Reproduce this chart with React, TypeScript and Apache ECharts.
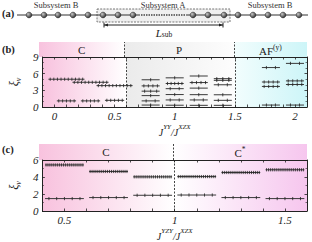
import React, { useEffect, useRef } from "react";
import * as echarts from "echarts";

// ---------- data ----------
// panel (b): J^YY/J^XZX
const bBounds = [-0.1, 0.6, 1.5, 2.1];
const bPhaseNames = ["C", "P", "AF"];
const bJ_C = [0.1, 0.3, 0.5];
const bC_upper = [5.0, 4.45, 3.85];
const bC_lower = [1.1, 1.1, 1.2];
const bC_upperTicks = [10, 10, 10];
const bC_lowerTicks = [5, 5, 5];
const bJ_P = [0.8, 1.0, 1.2, 1.4];
const bP_levels = [
  [4.9, 3.8, 2.85, 2.05, 1.1, 0.35],
  [5.25, 4.23, 3.3, 2.24, 1.27, 0.32],
  [5.58, 4.4, 3.4, 2.22, 1.27, 0.3],
  [5.1, 4.8, 4.0, 2.2, 1.2, 0.3],
];
const bP_ticks = [
  [1, 4, 3, 1, 2, 1],
  [1, 5, 2, 1, 2, 1],
  [1, 4, 1, 1, 2, 1],
  [3, 3, 2, 1, 2, 1],
];
const bJ_AF = [1.8, 2.0];
const bAF_levels = [
  [7.1, 4.5, 3.7, 0.35],
  [7.85, 4.7, 4.05, 0.35],
];
const bAF_ticks = [
  [2, 4, 4, 2],
  [2, 4, 4, 2],
];

// panel (c): J^YZY/J^XZX
const cBounds = [0.4, 1.0, 1.6];
const cPhaseNames = ["C", "C*"];
const cJ = [0.5, 0.7, 0.9, 1.1, 1.3, 1.5];
const cUpper = [5.42, 4.65, 4.02, 4.05, 4.53, 4.85];
const cLower = [1.46, 1.58, 1.85, 1.88, 1.58, 1.46];
const cUpperTicks = [20, 20, 20, 20, 20, 20];
const cLowerTicks = [5, 5, 5, 5, 5, 5];

const bHalfC_up = 0.15;
const bHalfC_lo = 0.08;
const bHalfP = 0.075;
const cHalf = 0.088;

// ---------- helpers ----------
const FONT = "Liberation Serif";
const INK = "#222";

function grad(c0: string, c1: string) {
  return new echarts.graphic.LinearGradient(0, 0, 1, 0, [
    { offset: 0, color: c0 },
    { offset: 1, color: c1 },
  ]);
}

function buildB() {
  const out: number[][] = [];
  bJ_C.forEach((j, i) => {
    out.push([j, bC_upper[i], bHalfC_up, bC_upperTicks[i]]);
    out.push([j, bC_lower[i], bHalfC_lo, bC_lowerTicks[i]]);
  });
  bJ_P.forEach((j, i) =>
    bP_levels[i].forEach((v, k) => out.push([j, v, bHalfP, bP_ticks[i][k]]))
  );
  bJ_AF.forEach((j, i) =>
    bAF_levels[i].forEach((v, k) => out.push([j, v, bHalfP, bAF_ticks[i][k]]))
  );
  return out;
}
function buildC() {
  const out: number[][] = [];
  cJ.forEach((j, i) => {
    out.push([j, cUpper[i], cHalf, cUpperTicks[i]]);
    out.push([j, cLower[i], cHalf, cLowerTicks[i]]);
  });
  return out;
}

function renderSeg(params: any, api: any) {
  const c = api.value(0);
  const v = api.value(1);
  const hw = api.value(2);
  const n = api.value(3);
  const p0 = api.coord([c - hw, v]);
  const p1 = api.coord([c + hw, v]);
  const children: any[] = [
    {
      type: "line",
      shape: { x1: p0[0], y1: p0[1], x2: p1[0], y2: p1[1] },
      style: { stroke: "#3a3a3a", lineWidth: 1 },
    },
  ];
  const w = p1[0] - p0[0];
  for (let i = 0; i < n; i++) {
    const x = n === 1 ? (p0[0] + p1[0]) / 2 : p0[0] + ((i + 0.5) * w) / n;
    children.push({
      type: "line",
      shape: { x1: x, y1: p0[1] - 1.6, x2: x, y2: p0[1] + 1.6 },
      style: { stroke: "#222", lineWidth: 0.8 },
    });
  }
  return { type: "group", children };
}

const halfLabel = (v: number) => {
  const r = Math.round(v * 2) / 2;
  return Math.abs(v - r) < 1e-6 ? String(r) : "";
};

const nameRich = {
  j: { fontFamily: FONT, fontStyle: "italic", fontSize: 10, color: INK, lineHeight: 14, verticalAlign: "bottom" },
  s: { fontFamily: FONT, fontStyle: "italic", fontSize: 7, color: INK, lineHeight: 14, verticalAlign: "top" },
};
const yNameRich = {
  x: { fontFamily: FONT, fontStyle: "italic", fontSize: 12, color: INK, lineHeight: 14, verticalAlign: "top" },
  v: { fontFamily: FONT, fontStyle: "italic", fontSize: 8, color: INK, lineHeight: 14, verticalAlign: "bottom" },
};

function mainX(grid: number, min: number, max: number, pos: string, name?: string) {
  return {
    gridIndex: grid,
    type: "value",
    min,
    max,
    interval: 0.1,
    position: pos,
    z: 10,
    axisLine: { show: true, onZero: false, lineStyle: { color: INK, width: 1 } },
    axisTick: { show: true, inside: true, length: 2.5, lineStyle: { color: INK, width: 0.8 } },
    axisLabel: {
      show: pos === "bottom",
      formatter: halfLabel,
      fontFamily: FONT,
      fontStyle: "italic",
      fontSize: 11,
      color: INK,
      margin: 3,
    },
    splitLine: { show: false },
    name: name || "",
    nameLocation: "middle",
    nameGap: 16,
    nameTextStyle: { rich: nameRich },
  };
}
function mainY(grid: number, max: number, interval: number, minorSplit: number, pos: string) {
  return {
    gridIndex: grid,
    type: "value",
    min: 0,
    max,
    interval,
    position: pos,
    z: 10,
    axisLine: { show: true, onZero: false, lineStyle: { color: INK, width: 1 } },
    axisTick: { show: true, inside: true, length: 2.5, lineStyle: { color: INK, width: 0.8 } },
    minorTick: { show: true, splitNumber: minorSplit, length: 1.5, lineStyle: { color: INK, width: 0.6 } },
    axisLabel: {
      show: pos === "left",
      fontFamily: FONT,
      fontStyle: "italic",
      fontSize: 11,
      color: INK,
      margin: 4,
    },
    splitLine: { show: false },
    name: pos === "left" ? "{x|ξ}{v|v}" : "",
    nameLocation: "middle",
    nameGap: 16,
    nameRotate: 90,
    nameTextStyle: { rich: yNameRich },
  };
}
const hiddenX = (grid: number, min: number, max: number) => ({ gridIndex: grid, type: "value", min, max, show: false });
const hiddenY = (grid: number) => ({ gridIndex: grid, type: "value", min: 0, max: 1, show: false });

const dashLine = { color: "#444", width: 1, type: [2, 1.5] };

function bandSeries(xi: number, yi: number, areas: any[], lines: number[], withLabel: boolean) {
  return {
    type: "line",
    xAxisIndex: xi,
    yAxisIndex: yi,
    data: [],
    silent: true,
    markArea: {
      silent: true,
      label: {
        show: withLabel,
        position: "inside",
        fontFamily: FONT,
        fontSize: 11,
        color: INK,
        rich: {
          t: { fontFamily: FONT, fontSize: 11, color: INK, verticalAlign: "bottom", lineHeight: 13 },
          s: { fontFamily: FONT, fontSize: 7.5, color: INK, verticalAlign: "top", lineHeight: 13 },
        },
      },
      data: areas,
    },
    markLine: {
      silent: true,
      symbol: "none",
      label: { show: false },
      lineStyle: dashLine,
      data: lines.map((x) => ({ xAxis: x })),
    },
  };
}

const bColors = [
  ["#f8c2de", "#ffffff"],
  ["#ebebeb", "#fdfdfd"],
  ["#f2fdfd", "#cdf5f8"],
];
const cColors = [
  ["#f8c2de", "#ffffff"],
  ["#ffffff", "#f6c6ee"],
];
const bLabelFmt = ["C", "P", "{t|AF}{s|(y)}"];
const cLabelFmt = ["C", "{t|C}{s|*}"];

function areasFor(bounds: number[], colors: string[][], names: string[], fmts: string[]) {
  return names.map((n, i) => [
    {
      xAxis: bounds[i],
      name: n,
      itemStyle: { color: grad(colors[i][0], colors[i][1]) },
      label: { formatter: fmts[i] },
    },
    { xAxis: bounds[i + 1] },
  ]);
}

// ---------- panel (a) schematic ----------
function schematic() {
  const els: any[] = [];
  const y = 15;
  els.push({
    type: "rect",
    shape: { x: 97, y: 9, width: 133, height: 13 },
    style: { fill: "#efefef", stroke: "#555", lineWidth: 0.8, lineDash: [2, 1.2] },
  });
  els.push({ type: "line", shape: { x1: 17, y1: y, x2: 140, y2: y }, style: { stroke: "#333", lineWidth: 1 } });
  els.push({ type: "line", shape: { x1: 186, y1: y, x2: 308, y2: y }, style: { stroke: "#333", lineWidth: 1 } });
  els.push({
    type: "line",
    shape: { x1: 141, y1: y, x2: 186, y2: y },
    style: { stroke: "#444", lineWidth: 1.4, lineDash: [1.5, 1] },
  });
  const left = [29, 44, 58, 73, 88, 103, 118, 133];
  const right = [193, 208, 224, 238, 253, 268, 283, 299];
  left.concat(right).forEach((x) =>
    els.push({
      type: "circle",
      shape: { cx: x, cy: y, r: 2.9 },
      style: {
        fill: new echarts.graphic.RadialGradient(0.35, 0.35, 0.75, [
          { offset: 0, color: "#c8c8c8" },
          { offset: 1, color: "#1e1e1e" },
        ]),
        stroke: "#111",
        lineWidth: 0.4,
      },
    })
  );
  const txt = (x: number, t: string) => ({
    type: "text",
    x,
    y: 5,
    style: { text: t, fontFamily: FONT, fontSize: 8.5, fill: "#333", align: "center", verticalAlign: "middle" },
  });
  els.push(txt(56, "Subsystem B"), txt(163, "Subsystem A"), txt(270, "Subsystem B"));
  // L_sub bracket
  els.push({ type: "line", shape: { x1: 104, y1: 25, x2: 223, y2: 25 }, style: { stroke: "#222", lineWidth: 1 } });
  els.push({ type: "line", shape: { x1: 104, y1: 22.5, x2: 104, y2: 27.5 }, style: { stroke: "#222", lineWidth: 1 } });
  els.push({ type: "line", shape: { x1: 223, y1: 22.5, x2: 223, y2: 27.5 }, style: { stroke: "#222", lineWidth: 1 } });
  els.push({ type: "polygon", shape: { points: [[104, 25], [108, 23.6], [108, 26.4]] }, style: { fill: "#222" } });
  els.push({ type: "polygon", shape: { points: [[223, 25], [219, 23.6], [219, 26.4]] }, style: { fill: "#222" } });
  els.push({
    type: "text",
    x: 164,
    y: 32,
    style: {
      text: "{l|L}{s|sub}",
      align: "center",
      verticalAlign: "middle",
      rich: {
        l: { fontFamily: FONT, fontStyle: "italic", fontSize: 11, fill: "#222", verticalAlign: "bottom", lineHeight: 12 },
        s: { fontFamily: FONT, fontSize: 7.5, fill: "#222", verticalAlign: "bottom", lineHeight: 10 },
      },
    },
  });
  const plab = (y0: number, t: string) => ({
    type: "text",
    x: 2,
    y: y0,
    style: { text: t, fontFamily: FONT, fontSize: 10.5, fontWeight: "bold", fill: "#222", verticalAlign: "middle" },
  });
  els.push(plab(13, "(a)"), plab(49, "(b)"), plab(149, "(c)"));
  return els;
}

export default function App() {
  const ref = useRef<HTMLDivElement>(null);
  useEffect(() => {
    if (!ref.current) return;
    const chart = echarts.init(ref.current, undefined, { renderer: "svg" });
    const bAreas = areasFor(bBounds, bColors, bPhaseNames, bLabelFmt);
    const cAreas = areasFor(cBounds, cColors, cPhaseNames, cLabelFmt);
    const bName = "{j|J}{s|YY}{j|/J}{s|XZX}";
    const cName = "{j|J}{s|YZY}{j|/J}{s|XZX}";
    chart.setOption({
      animation: false,
      textStyle: { fontFamily: FONT },
      grid: [
        { left: 39, right: 5, top: 42, height: 15 },
        { left: 39, right: 5, top: 57, height: 50 },
        { left: 39, right: 5, top: 144, height: 16 },
        { left: 39, right: 5, top: 160, height: 52 },
      ],
      xAxis: [
        hiddenX(0, bBounds[0], bBounds[3]),
        mainX(1, bBounds[0], bBounds[3], "bottom", bName),
        mainX(1, bBounds[0], bBounds[3], "top"),
        hiddenX(2, cBounds[0], cBounds[2]),
        mainX(3, cBounds[0], cBounds[2], "bottom", cName),
        mainX(3, cBounds[0], cBounds[2], "top"),
      ],
      yAxis: [
        hiddenY(0),
        mainY(1, 9, 3, 3, "left"),
        mainY(1, 9, 3, 3, "right"),
        hiddenY(2),
        mainY(3, 6, 2, 2, "left"),
        mainY(3, 6, 2, 2, "right"),
      ],
      series: [
        bandSeries(0, 0, bAreas, [bBounds[1], bBounds[2]], true),
        bandSeries(1, 1, bAreas, [bBounds[1], bBounds[2]], false),
        {
          type: "custom",
          xAxisIndex: 1,
          yAxisIndex: 1,
          renderItem: renderSeg,
          data: buildB(),
          silent: true,
          z: 5,
        },
        bandSeries(3, 3, cAreas, [cBounds[1]], true),
        bandSeries(4, 4, cAreas, [cBounds[1]], false),
        {
          type: "custom",
          xAxisIndex: 4,
          yAxisIndex: 4,
          renderItem: renderSeg,
          data: buildC(),
          silent: true,
          z: 5,
        },
      ],
      graphic: schematic(),
    });
    return () => chart.dispose();
  }, []);
  return (
    <div
      ref={ref}
      style={{ position: "fixed", left: 0, top: 0, width: 312, height: 242, background: "#fff" }}
    />
  );
}
